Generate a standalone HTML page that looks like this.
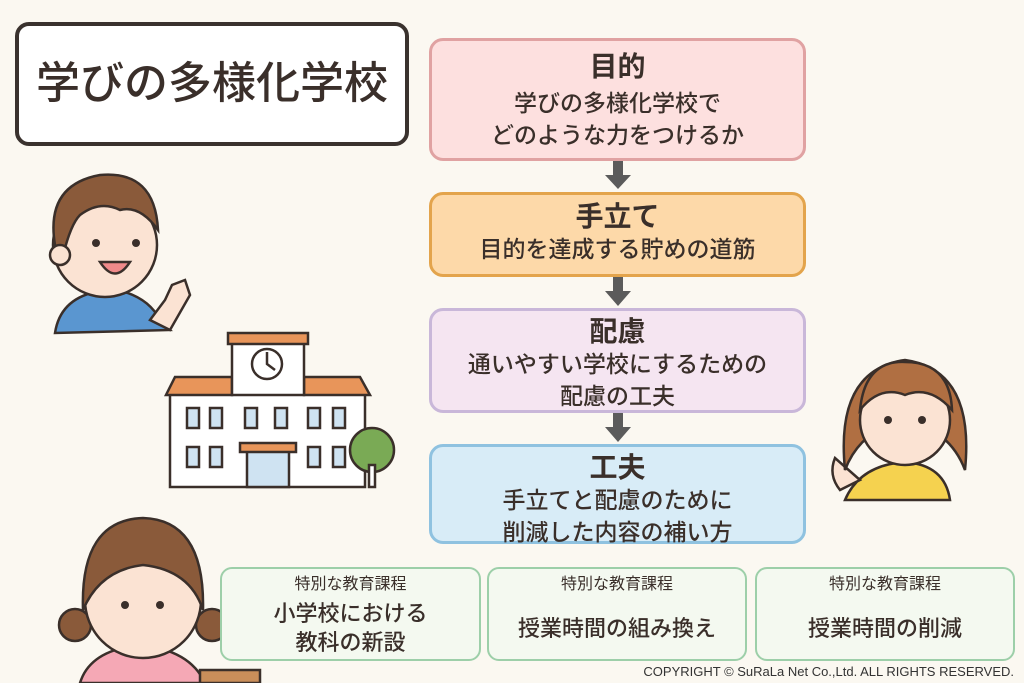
<!DOCTYPE html>
<html><head><meta charset="utf-8"><style>
body{margin:0;width:1024px;height:683px;background:#fbf8f1;position:relative;overflow:hidden;font-family:"Liberation Sans","Noto Sans CJK JP",sans-serif;color:#3a2f2a}
.b{position:absolute;box-sizing:border-box;border-radius:14px;text-align:center}
.t{font-size:28px;font-weight:bold;line-height:32px}
.s{font-size:23px;line-height:32px;font-weight:500}
.g{position:absolute;top:567px;height:94px;box-sizing:border-box;border:2px solid #9dcfa9;background:#f4f9f0;border-radius:12px;text-align:center}
.g .h{font-size:16px;margin-top:6px;line-height:20px}
.g .m{font-size:22px;line-height:29px;font-weight:500}
</style></head><body>
<div class="b" style="left:15px;top:22px;width:394px;height:124px;border:4px solid #3a322e;background:#fff;font-size:44px;line-height:116px;font-weight:500">学びの多様化学校</div>

<div class="b" style="left:429px;top:38px;width:377px;height:123px;border:3px solid #e0a2a2;background:#fde0df"><div class="t" style="margin-top:10px">目的</div><div class="s" style="margin-top:4px">学びの多様化学校で<br>どのような力をつけるか</div></div>
<div class="b" style="left:429px;top:192px;width:377px;height:85px;border:3px solid #e3a44c;background:#fdd9a9"><div class="t" style="margin-top:6px">手立て</div><div class="s">目的を達成する貯めの道筋</div></div>
<div class="b" style="left:429px;top:308px;width:377px;height:105px;border:3px solid #c9b7d9;background:#f5e5f1"><div class="t" style="margin-top:5px">配慮</div><div class="s">通いやすい学校にするための<br>配慮の工夫</div></div>
<div class="b" style="left:429px;top:444px;width:377px;height:100px;border:3px solid #8fc2e0;background:#d8ecf7"><div class="t" style="margin-top:5px">工夫</div><div class="s">手立てと配慮のために<br>削減した内容の補い方</div></div>

<svg style="position:absolute;left:0;top:0" width="1024" height="683">
<g fill="#5b5b5b">
<rect x="613" y="161" width="10" height="14"/><polygon points="605,175 631,175 618,189"/>
<rect x="613" y="277" width="10" height="16"/><polygon points="605,291 631,291 618,306"/>
<rect x="613" y="413" width="10" height="15"/><polygon points="605,427 631,427 618,442"/>
</g>
<g stroke="#3a2f2a" stroke-width="2.5">
<path d="M55,333 Q60,300 95,292 L125,292 Q150,300 160,320 L170,330 Z" fill="#5a96d0"/>
<path d="M150,320 L165,300 L172,285 L185,280 L190,295 L170,330 Z" fill="#fbe3d3"/>
<circle cx="105" cy="245" r="52" fill="#fbe3d3"/>
<path d="M55,245 Q45,185 100,175 Q155,170 158,230 Q140,205 120,210 Q100,200 80,215 Q70,225 62,260 Z" fill="#8a5a3a"/>
<circle cx="60" cy="255" r="10" fill="#fbe3d3"/>
<path d="M100,262 Q115,285 130,262 Z" fill="#f08a8a"/>
</g>
<circle cx="96" cy="243" r="4" fill="#3a2f2a"/><circle cx="136" cy="243" r="4" fill="#3a2f2a"/>
<g stroke="#3a2f2a" stroke-width="2.5">
<rect x="170" y="393" width="195" height="94" fill="#fff"/>
<polygon points="175,377 232,377 232,395 166,395" fill="#e8955a"/>
<polygon points="304,377 360,377 370,395 304,395" fill="#e8955a"/>
<rect x="232" y="343" width="72" height="52" fill="#fff"/>
<rect x="228" y="333" width="80" height="11" fill="#e8955a"/>
<circle cx="267" cy="364" r="15" fill="#fff"/>
<path d="M267,352 L267,364 L275,370" fill="none"/>
<g fill="#cfe3f2">
<rect x="187" y="408" width="12" height="20"/><rect x="210" y="408" width="12" height="20"/><rect x="245" y="408" width="12" height="20"/><rect x="275" y="408" width="12" height="20"/><rect x="308" y="408" width="12" height="20"/><rect x="333" y="408" width="12" height="20"/>
<rect x="187" y="447" width="12" height="20"/><rect x="210" y="447" width="12" height="20"/><rect x="308" y="447" width="12" height="20"/><rect x="333" y="447" width="12" height="20"/>
<rect x="247" y="447" width="42" height="40"/>
</g>
<rect x="240" y="443" width="56" height="9" fill="#e8955a"/>
<circle cx="372" cy="450" r="22" fill="#7aaa55"/>
<rect x="369" y="465" width="6" height="22" fill="#fff"/>
</g>
<g stroke="#3a2f2a" stroke-width="2.5">
<path d="M845,500 Q860,465 905,462 Q945,465 950,500 Z" fill="#f5d24f"/>
<path d="M835,458 Q828,475 840,490 L860,480 Z" fill="#fbe3d3"/>
<path d="M845,470 Q835,370 905,360 Q975,370 965,470 Q950,430 905,420 Q860,430 845,470Z" fill="#b06f42"/>
<circle cx="905" cy="420" r="45" fill="#fbe3d3"/>
<path d="M860,410 Q865,360 905,362 Q950,362 952,410 Q930,385 905,395 Q880,385 860,410Z" fill="#b06f42"/>
</g>
<circle cx="888" cy="420" r="4" fill="#3a2f2a"/><circle cx="922" cy="420" r="4" fill="#3a2f2a"/>
<g stroke="#3a2f2a" stroke-width="2.5">
<path d="M80,683 Q90,650 140,645 Q190,650 205,683 Z" fill="#f5a8b5"/>
<circle cx="75" cy="625" r="16" fill="#8a5a3a"/><circle cx="212" cy="625" r="16" fill="#8a5a3a"/>
<circle cx="143" cy="600" r="58" fill="#fbe3d3"/>
<path d="M83,610 Q80,520 143,518 Q205,520 203,610 Q190,570 143,565 Q100,570 83,610Z" fill="#8a5a3a"/>
<rect x="200" y="670" width="60" height="13" fill="#c98e5a"/>
</g>
<circle cx="125" cy="605" r="4" fill="#3a2f2a"/><circle cx="160" cy="605" r="4" fill="#3a2f2a"/>
</svg>

<div class="g" style="left:220px;width:261px"><div class="h">特別な教育課程</div><div class="m" style="margin-top:4px">小学校における<br>教科の新設</div></div>
<div class="g" style="left:487px;width:260px"><div class="h">特別な教育課程</div><div class="m" style="margin-top:19px">授業時間の組み換え</div></div>
<div class="g" style="left:755px;width:260px"><div class="h">特別な教育課程</div><div class="m" style="margin-top:19px">授業時間の削減</div></div>
<div style="position:absolute;right:10px;top:664px;font-size:13px;color:#333">COPYRIGHT © SuRaLa Net Co.,Ltd. ALL RIGHTS RESERVED.</div>
</body></html>
